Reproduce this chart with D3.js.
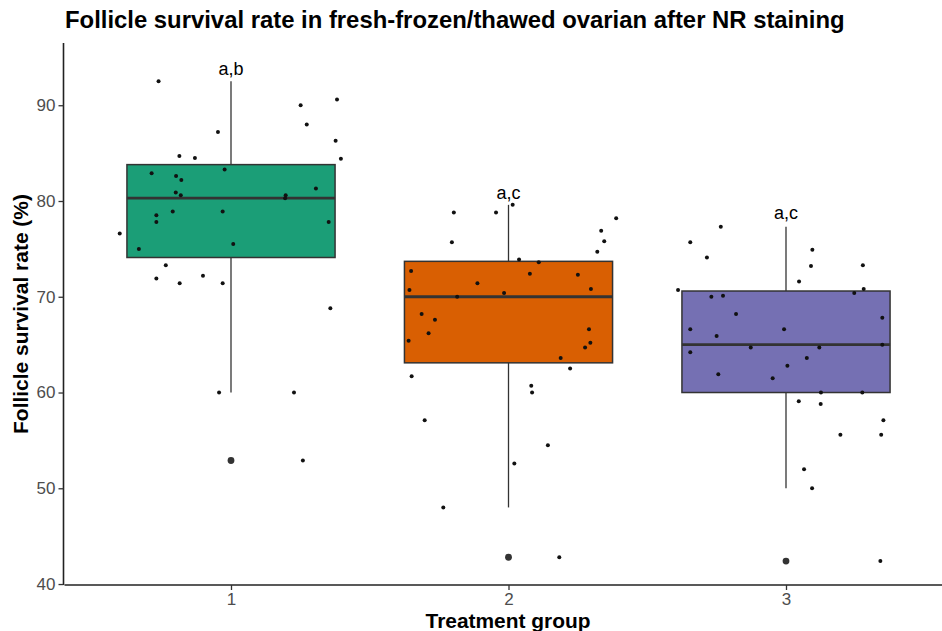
<!DOCTYPE html>
<html><head><meta charset="utf-8">
<script src="https://cdn.jsdelivr.net/npm/d3@7"></script>
<style>body{margin:0;background:#fff}svg{display:block}</style>
</head><body>
<script>
// ---- data ----
const groups = ["1", "2", "3"];
const colors = ["#1B9E77", "#D95F02", "#7570B3"];
const whiskerLow = [60.0, 48.0, 50.0];
const q1 = [74.1, 63.1, 60.0];
const median = [80.3, 70.0, 65.0];
const q3 = [83.8, 73.7, 70.6];
const whiskerHigh = [92.5, 79.6, 77.3];
const outliers = [52.9, 42.8, 42.4];
const letters = ["a,b", "a,c", "a,c"];
const letterY = [93.2, 80.2, 78.1];
const yTicks = [40, 50, 60, 70, 80, 90];
// jittered observations: [x position on group axis, value]
const pointsG1 = [[0.739,92.5],[0.953,87.2],[0.814,84.7],[0.870,84.5],[1.251,90.0],[1.382,90.6],[1.273,88.0],[1.377,86.3],[1.396,84.4],[0.714,82.9],[0.977,83.3],[0.802,82.6],[0.821,82.2],[0.801,80.9],[0.819,80.6],[1.197,80.6],[1.195,80.3],[1.306,81.3],[0.731,78.5],[0.790,78.9],[0.970,78.9],[0.731,77.8],[1.352,77.8],[0.599,76.6],[1.008,75.5],[0.668,75.0],[0.765,73.3],[0.731,71.9],[0.815,71.4],[0.899,72.2],[0.970,71.4],[1.358,68.8],[0.957,60.0],[1.227,60.0],[1.259,52.9]];
const pointsG2 = [[1.803,78.8],[1.955,78.8],[2.015,79.6],[1.796,75.7],[2.388,78.2],[2.334,76.9],[2.345,75.8],[2.320,74.7],[2.038,73.9],[2.109,73.6],[1.649,72.7],[2.077,72.4],[2.250,72.3],[1.888,71.4],[1.643,70.7],[2.297,70.8],[1.984,70.4],[1.815,70.0],[1.687,68.2],[1.735,67.6],[1.712,66.2],[2.290,66.6],[2.295,65.2],[1.640,65.4],[2.276,64.7],[2.188,63.6],[2.222,62.5],[1.651,61.7],[2.082,60.7],[2.085,60.0],[1.698,57.1],[2.142,54.5],[2.021,52.6],[1.765,48.0],[2.183,42.8]];
const pointsG3 = [[2.765,77.3],[2.655,75.7],[2.715,74.1],[3.095,74.9],[3.090,73.2],[3.277,73.3],[3.047,71.6],[2.611,70.7],[3.280,70.8],[3.246,70.4],[2.731,70.0],[2.773,70.1],[2.820,68.2],[3.347,67.8],[2.655,66.6],[2.993,66.6],[2.750,65.9],[2.873,64.7],[3.120,64.7],[3.347,65.0],[2.655,64.2],[3.075,63.6],[3.005,62.8],[2.756,61.9],[2.952,61.5],[3.126,60.0],[3.275,60.0],[3.046,59.1],[3.125,58.8],[3.351,57.1],[3.196,55.6],[3.343,55.6],[3.065,52.0],[3.094,50.0],[3.340,42.4]];

// ---- layout ----
const W = 942, H = 631;
const svg = d3.select("body").append("svg").attr("width", W).attr("height", H)
  .style("font-family", "'Liberation Sans', Arial, Helvetica, sans-serif");

const x = d3.scaleLinear().domain([0.4, 3.6]).range([64.5, 952.5]);
const y = d3.scaleLinear().domain([39.9, 96.5]).range([585, 43]);
const boxW = x(0.75) - x(0);

const plot = svg.append("g");

// boxplots
groups.forEach((g, i) => {
  const cx = x(i + 1);
  const gb = plot.append("g");
  gb.append("line").attr("x1", cx).attr("x2", cx).attr("y1", y(q3[i])).attr("y2", y(whiskerHigh[i]))
    .attr("stroke", "#333").attr("stroke-width", 1.3);
  gb.append("line").attr("x1", cx).attr("x2", cx).attr("y1", y(q1[i])).attr("y2", y(whiskerLow[i]))
    .attr("stroke", "#333").attr("stroke-width", 1.3);
  gb.append("rect").attr("x", cx - boxW / 2).attr("width", boxW)
    .attr("y", y(q3[i])).attr("height", y(q1[i]) - y(q3[i]))
    .attr("fill", colors[i]).attr("stroke", "#333").attr("stroke-width", 1.5);
  gb.append("line").attr("x1", cx - boxW / 2).attr("x2", cx + boxW / 2)
    .attr("y1", y(median[i])).attr("y2", y(median[i]))
    .attr("stroke", "#333").attr("stroke-width", 2.8);
  gb.append("circle").attr("cx", cx).attr("cy", y(outliers[i])).attr("r", 3.4).attr("fill", "#333");
  gb.append("text").attr("x", cx).attr("y", y(letterY[i])).attr("text-anchor", "middle")
    .attr("font-size", 18).attr("fill", "#000").text(letters[i]);
});

// jittered points
[pointsG1, pointsG2, pointsG3].forEach(pts => {
  plot.selectAll(null).data(pts).enter().append("circle")
    .attr("cx", d => x(d[0])).attr("cy", d => y(d[1])).attr("r", 2).attr("fill", "#111");
});

// axes
const yAxis = svg.append("g").attr("transform", "translate(63.5,0)")
  .call(d3.axisLeft(y).tickValues(yTicks).tickSize(5).tickPadding(3));
const xAxis = svg.append("g").attr("transform", "translate(0,585)")
  .call(d3.axisBottom(x).tickValues([1, 2, 3]).tickFormat((d, i) => groups[i]).tickSize(5).tickPadding(3));
[yAxis, xAxis].forEach(a => {
  a.select(".domain").attr("stroke", "#222").attr("stroke-width", 1.6);
  a.selectAll(".tick line").attr("stroke", "#333").attr("stroke-width", 1.3);
  a.selectAll(".tick text").attr("fill", "#4D4D4D").attr("font-size", 17)
    .style("font-family", "'Liberation Sans', Arial, sans-serif");
});
yAxis.select(".domain").attr("d", `M0,${y.range()[0]}V${y.range()[1]}`);
xAxis.select(".domain").attr("d", `M${x.range()[0]},0H${x.range()[1]}`);

// titles
const title = svg.append("text").attr("x", 65).attr("y", 28).attr("font-weight", "bold")
  .attr("font-size", 21).attr("fill", "#000")
  .text("Follicle survival rate in fresh-frozen/thawed ovarian after NR staining");
const tw = title.node().getComputedTextLength();
title.attr("font-size", 21 * 780 / tw);

const xl = svg.append("text").attr("x", 508).attr("y", 628).attr("text-anchor", "middle")
  .attr("font-weight", "bold").attr("font-size", 20).text("Treatment group");
xl.attr("font-size", 20 * 165 / xl.node().getComputedTextLength());
const yl = svg.append("text").attr("transform", "translate(27.5,314) rotate(-90)").attr("text-anchor", "middle")
  .attr("font-weight", "bold").attr("font-size", 20).text("Follicle survival rate (%)");
yl.attr("font-size", 20 * 240 / yl.node().getComputedTextLength());
</script>
</body></html>
